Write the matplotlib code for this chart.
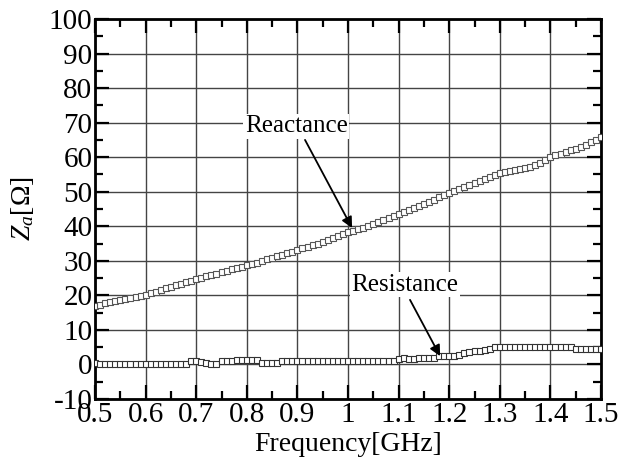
import numpy as np
import matplotlib
matplotlib.use("Agg")
import matplotlib.pyplot as plt
from matplotlib.ticker import MultipleLocator

plt.rcParams["font.family"] = ["Liberation Serif", "DejaVu Serif"]
plt.rcParams["mathtext.fontset"] = "custom"
plt.rcParams["mathtext.rm"] = "Liberation Serif"
plt.rcParams["mathtext.it"] = "Liberation Serif:italic"
plt.rcParams["axes.unicode_minus"] = False

# データ (0.5 - 1.5 GHz, 0.01 GHz 刻み)
freq = np.linspace(0.5, 1.5, 101)

reactance = [
    17.0, 17.3, 17.7, 18.0, 18.3, 18.6, 19.0, 19.3, 19.6, 19.9,
    20.1, 20.6, 21.0, 21.5, 22.0, 22.5, 22.9, 23.4, 23.8, 24.3,
    24.7, 25.1, 25.5, 25.9, 26.3, 26.7, 27.1, 27.5, 27.9, 28.3,
    28.7, 29.1, 29.5, 30.0, 30.4, 30.8, 31.3, 31.7, 32.2, 32.6,
    33.1, 33.6, 34.0, 34.5, 35.0, 35.5, 36.1, 36.6, 37.1, 37.7,
    38.2, 38.6, 39.1, 39.6, 40.1, 40.6, 41.2, 41.7, 42.3, 42.9,
    43.5, 44.1, 44.7, 45.3, 45.9, 46.5, 47.0, 47.6, 48.4, 49.1,
    49.6, 50.2, 50.8, 51.3, 51.9, 52.5, 53.1, 53.6, 54.2, 54.8,
    55.3, 55.7, 56.0, 56.2, 56.5, 56.8, 57.1, 57.6, 58.4, 59.3,
    60.0, 60.5, 61.0, 61.5, 62.0, 62.5, 63.0, 63.6, 64.3, 65.0,
    65.8,
]

resistance = [
    0.3, 0.1, 0.0, 0.0, 0.0, 0.0, 0.0, 0.0, 0.0, 0.0,
    0.0, 0.0, 0.0, 0.0, 0.0, 0.0, 0.0, 0.0, 0.0, 1.0,
    1.0, 0.8, 0.3, 0.2, 0.2, 1.0, 1.0, 1.0, 1.3, 1.3,
    1.3, 1.2, 1.2, 0.4, 0.4, 0.4, 0.5, 1.0, 1.0, 1.0,
    1.0, 1.0, 0.9, 1.0, 1.0, 1.0, 1.0, 1.0, 1.0, 1.0,
    1.0, 1.0, 1.0, 1.0, 1.0, 1.0, 1.0, 1.0, 1.0, 1.1,
    1.6, 1.8, 1.7, 1.7, 1.8, 1.8, 1.8, 1.9, 2.4, 2.5,
    2.5, 2.5, 2.8, 3.2, 3.5, 3.8, 4.0, 4.3, 4.6, 5.0,
    5.1, 5.1, 5.1, 5.1, 5.1, 5.1, 5.1, 5.1, 5.1, 5.1,
    5.1, 5.1, 5.1, 5.1, 5.1, 4.4, 4.4, 4.4, 4.4, 4.4,
    4.4,
]

xlabels = ["0.5", "0.6", "0.7", "0.8", "0.9", "1", "1.1", "1.2", "1.3", "1.4", "1.5"]

fig = plt.figure(figsize=(6.31, 4.61), dpi=100)
ax = fig.add_axes([0.1506, 0.1345, 0.8019, 0.8243])

mk = dict(linestyle="none", marker="s", markersize=4, markerfacecolor="white",
          markeredgewidth=0.8, zorder=3)
ax.plot(freq, reactance, markeredgecolor="#555555", **mk)
ax.plot(freq, resistance, markeredgecolor="#333333", **mk)

ax.set_xlim(0.5, 1.5)
ax.set_ylim(-10, 100)
ax.set_xticks(np.arange(0.5, 1.51, 0.1))
ax.set_xticklabels(xlabels)
ax.xaxis.set_minor_locator(MultipleLocator(0.05))
ax.yaxis.set_major_locator(MultipleLocator(10))
ax.yaxis.set_minor_locator(MultipleLocator(5))

ax.grid(True, which="major", color="#444444", linewidth=1.0)
ax.tick_params(which="both", direction="in", top=True, right=True, labelsize=21, width=1.6)
ax.tick_params(which="major", length=10, pad=2)
ax.tick_params(which="minor", length=6)
for s in ax.spines.values():
    s.set_linewidth(2)

ax.set_xlabel("Frequency[GHz]", fontsize=20, labelpad=3)
ax.set_ylabel(r"$Z_a$[$\Omega$]", fontsize=20, labelpad=9)

box = dict(facecolor="white", edgecolor="none", pad=1)
ax.text(0.898, 69.0, "Reactance", fontsize=18, ha="center", va="center", bbox=box, zorder=4)
ax.annotate("", xy=(1.008, 39.5), xytext=(0.915, 65.0),
            arrowprops=dict(arrowstyle="-|>", color="black", lw=1.3, mutation_scale=16,
                            shrinkA=0, shrinkB=0), zorder=5)
ax.text(1.112, 23.0, "Resistance", fontsize=18, ha="center", va="center", bbox=box, zorder=4)
ax.annotate("", xy=(1.182, 2.4), xytext=(1.1225, 18.7),
            arrowprops=dict(arrowstyle="-|>", color="black", lw=1.3, mutation_scale=16,
                            shrinkA=0, shrinkB=0), zorder=5)

plt.savefig("out.png", dpi=100)
